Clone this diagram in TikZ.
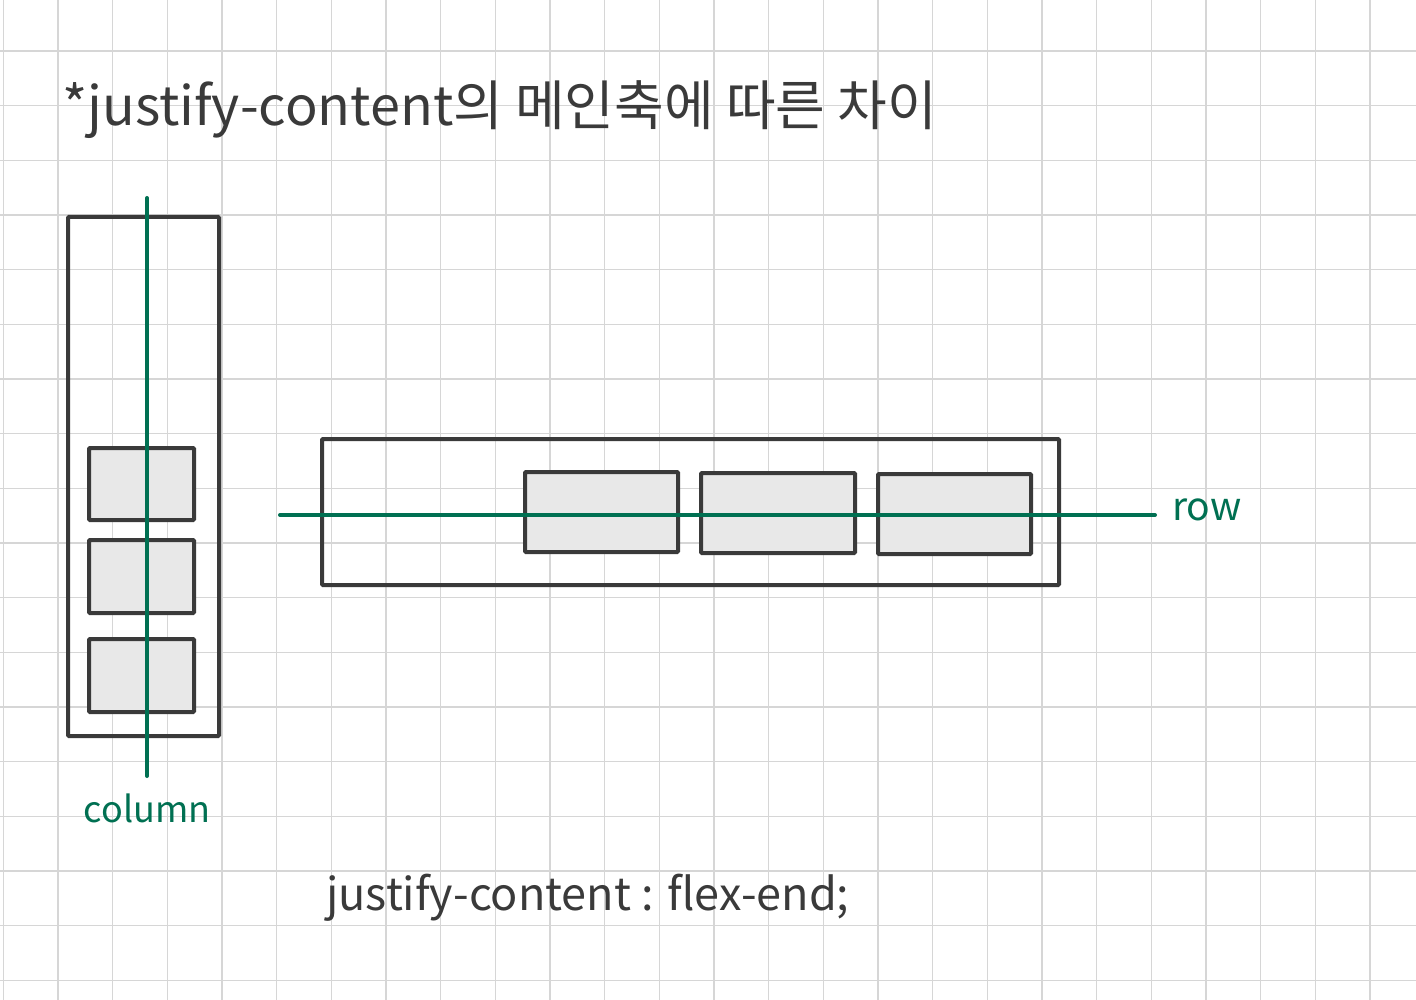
\documentclass[tikz,border=0pt]{standalone}
\usepackage{fontspec}
\setmainfont{Noto Sans CJK KR}
\usetikzlibrary{calc}
\definecolor{ink}{RGB}{58,58,58}
\definecolor{axisgreen}{RGB}{0,112,82}
\definecolor{itemfill}{RGB}{232,232,232}
\definecolor{gridgray}{RGB}{214,214,214}
\tikzset{
  gridline/.style={draw=gridgray,line width=1.5pt},
  container/.style={draw=ink,line width=4pt,rectangle,rounded corners=1pt,inner sep=0pt},
  item/.style={container,fill=itemfill},
  axis/.style={draw=axisgreen,line width=4pt,line cap=round},
  axislabel/.style={text=axisgreen,inner sep=0pt},
  note/.style={text=ink,inner sep=0pt,anchor=west}
}

\begin{document}
\begin{tikzpicture}[x=1pt,y=-1pt]
  \useasboundingbox (0,0) rectangle (1416,1000);
  \fill[white] (0,0) rectangle (1416,1000);
  % grid paper
  \foreach \i in {0,...,25}
    \draw[gridline] (3.3+\i*54.67,0) -- (3.3+\i*54.67,1000);
  \foreach \j in {0,...,17}
    \draw[gridline] (0,51+\j*54.67) -- (1416,51+\j*54.67);
  % title
  \node[note,font=\fontsize{54}{54}\selectfont] (title) at (62,110)
    {*justify-content의 메인축에 따른 차이};
  % column container
  \node[container,minimum width=151pt,minimum height=519pt] (colbox) at (143.5,476.5) {};
  \node[item,minimum width=105pt,minimum height=72pt] (c1) at (141.5,484) {};
  \node[item,minimum width=105pt,minimum height=73pt] (c2) at (141.5,576.5) {};
  \node[item,minimum width=105pt,minimum height=73pt] (c3) at (141.5,675.5) {};
  % row container
  \node[container,minimum width=737pt,minimum height=146pt] (rowbox) at (690.5,512) {};
  \node[item,minimum width=153pt,minimum height=80pt] (r1) at (601.5,512) {};
  \node[item,minimum width=154pt,minimum height=80pt] (r2) at (778,513) {};
  \node[item,minimum width=153pt,minimum height=80pt] (r3) at (954.5,514) {};
  % main axes
  \coordinate (coltop) at (147,198);
  \coordinate (colend) at (147,776);
  \coordinate (rowstart) at (280,515);
  \coordinate (rowend) at (1155,515);
  \draw[axis] (coltop) -- (colend);
  \draw[axis] (rowstart) -- (rowend);
  \node[axislabel,font=\fontsize{36}{36}\selectfont] (collabel) at (147,808) {column};
  \node[axislabel,anchor=west,font=\fontsize{39}{39}\selectfont] (rowlabel)
    at ($(rowend)+(17,-5)$) {row};
  % property
  \node[note,font=\fontsize{45}{45}\selectfont] (prop) at (326,898)
    {justify-content : flex-end;};
\end{tikzpicture}
\end{document}
